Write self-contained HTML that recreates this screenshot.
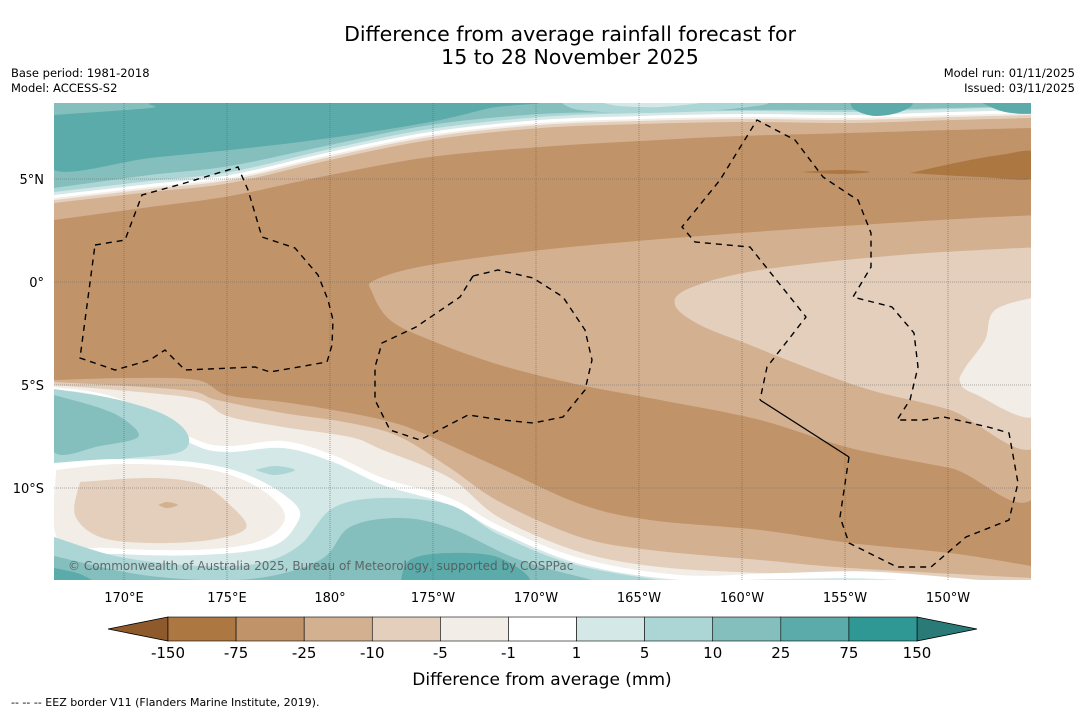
<!DOCTYPE html>
<html><head><meta charset="utf-8">
<style>
html,body{margin:0;padding:0;background:#fff;}
body{width:1085px;height:713px;overflow:hidden;font-family:"DejaVu Sans","Liberation Sans",sans-serif;}
svg text{font-family:"DejaVu Sans","Liberation Sans",sans-serif;}
</style></head>
<body>
<svg id="chart" width="1085" height="713" viewBox="0 0 1085 713" xmlns="http://www.w3.org/2000/svg">
<rect width="1085" height="713" fill="#fff"/>
<text x="570" y="41" font-size="20.5" text-anchor="middle" fill="#000">Difference from average rainfall forecast for</text>
<text x="570" y="64" font-size="20.5" text-anchor="middle" fill="#000">15 to 28 November 2025</text>
<text x="11" y="77" font-size="11.5">Base period: 1981-2018</text>
<text x="11" y="92" font-size="11.5">Model: ACCESS-S2</text>
<text x="1075" y="77" font-size="11.5" text-anchor="end">Model run: 01/11/2025</text>
<text x="1075" y="92" font-size="11.5" text-anchor="end">Issued: 03/11/2025</text>
<defs><clipPath id="mapclip"><rect x="54" y="103" width="977" height="477"/></clipPath></defs>
<g id="map" clip-path="url(#mapclip)"></g>
<g id="axes"></g>
<g id="cbar"></g>
<text x="542" y="685" font-size="17" text-anchor="middle">Difference from average (mm)</text>
<text x="11" y="706" font-size="11">--  --  -- EEZ border V11 (Flanders Marine Institute, 2019).</text>
</svg>
<script>
const levels = ["-150","-75","-25","-10","-5","-1","1","5","10","25","75","150"];
const levelColors = ["#ac7741","#c09369","#d3b090","#e3cfbc","#f2ede6","#ffffff","#d4e8e7","#acd6d5","#84bfbd","#5aabaa","#2f9794"];
const extendColors = ["#8e5a2b","#2a7a78"];
const lonLabels = ["170°E","175°E","180°","175°W","170°W","165°W","160°W","155°W","150°W"];
const lonValues = [170,175,180,185,190,195,200,205,210];
const latLabels = ["5°N","0°","5°S","10°S"];
const latValues = [5,0,-5,-10];

const NS="http://www.w3.org/2000/svg";
const map=document.getElementById('map');
const axes=document.getElementById('axes');
const cbar=document.getElementById('cbar');
function xLon(l){return 124+(l-170)*20.6;}
function yLat(l){return 282-l*20.6;}
function mk(tag,attrs,parent){const e=document.createElementNS(NS,tag);for(const k in attrs)e.setAttribute(k,attrs[k]);parent.appendChild(e);return e;}
function smooth(p){let d='';for(let i=0;i<p.length-1;i++){const p0=p[i-1]||p[i],p1=p[i],p2=p[i+1],p3=p[i+2]||p2;
 const c1x=p1[0]+(p2[0]-p0[0])/6,c1y=p1[1]+(p2[1]-p0[1])/6,c2x=p2[0]-(p3[0]-p1[0])/6,c2y=p2[1]-(p3[1]-p1[1])/6;
 d+=` C${c1x.toFixed(1)},${c1y.toFixed(1)} ${c2x.toFixed(1)},${c2y.toFixed(1)} ${p2[0]},${p2[1]}`;}return d;}
function topFill(pts,color,name){const d=`M40,90 L40,${pts[0][1]} L${pts[0][0]},${pts[0][1]}`+smooth(pts)+` L1045,${pts[pts.length-1][1]} L1045,90 Z`;
 const e=mk('path',{d:d,fill:color},map);
 
 }
function botFill(pts,color,name){const d=`M40,600 L40,${pts[0][1]} L${pts[0][0]},${pts[0][1]}`+smooth(pts)+` L1045,${pts[pts.length-1][1]} L1045,600 Z`;
 const e=mk('path',{d:d,fill:color},map);
 
 }
function blob(pts,color,name){const q=pts.concat([pts[0]]);const d=`M${pts[0][0]},${pts[0][1]}`+smooth(q)+' Z';
 const e=mk('path',{d:d,fill:color},map);
 
 }
const C=levelColors;
const base=mk('rect',{x:54,y:103,width:977,height:477,fill:C[1]},map);


const B=[[54,203],[150,192],[230,183],[330,160],[430,140],[540,128],[640,124],[740,122],[850,123],[950,120],[1031,118]];
const sh=(o)=>B.map(p=>[p[0],p[1]-o]);
topFill([[54,220],[150,207],[230,196],[330,175],[430,157],[540,147],[640,141],[740,136],[850,133],[950,130],[1031,128]],C[2],'north-band-25-10');
topFill(B,C[3],'north-band-10-5');
topFill(sh(3),C[4],'north-band-5-1');
topFill(sh(5),C[5],'north-band-neutral');
topFill(sh(8),C[6],'north-band-1-5');
topFill(sh(11),C[7],'north-band-5-10');
topFill([[54,188],[150,175],[230,166],[330,145],[430,125],[540,114],[640,112],[740,110],[850,110],[950,108],[1031,106]],C[8],'north-band-10-25');
blob([[54,115],[150,108],[180,102],[520,102],[490,108],[430,122],[330,138],[230,150],[150,158],[54,170]],C[9],'north-wet-core');
blob([[850,102],[910,102],[900,112],[875,116],[855,110]],C[9],'north-wet-patch-1');
blob([[980,102],[1035,102],[1035,113],[1005,112]],C[9],'north-wet-patch-2');
blob([[560,102],[760,102],[720,110],[640,113],[580,110]],C[7],'north-light-patch');
blob([[600,102],[700,102],[660,107],[620,106]],C[6],'north-light-patch-inner');
blob([[910,173],[960,162],[1000,155],[1035,152],[1035,178],[980,177]],C[0],'very-dry-patch');
blob([[800,172],[840,170],[870,172],[840,174]],C[0],'very-dry-streak');
botFill([[54,380],[130,378],[197,380],[227,395],[283,402],[333,410],[383,420],[420,432],[500,468],[580,504],[650,520],[760,530],[850,543],[950,553],[1031,566]],C[2],'south-band-25-10');
botFill([[54,382],[183,390],[217,400],[283,413],[350,423],[400,437],[450,468],[500,502],[580,537],[650,550],[760,560],[850,568],[1031,578]],C[3],'south-band-10-5');
botFill([[54,385],[150,393],[200,400],[227,416],[283,427],[350,437],[383,450],[450,478],[500,518],[580,552],[660,567],[760,573],[850,575],[1031,582]],C[4],'south-band-5-1');
botFill([[54,387],[117,398],[190,437],[227,446],[283,441],[333,455],[383,478],[450,498],[500,526],[580,558],[680,575],[780,573],[880,572],[1031,585]],C[5],'south-band-neutral');
botFill([[54,389],[117,401],[190,443],[227,452],[283,448],[333,462],[383,485],[450,505],[500,532],[580,564],[680,580],[780,579],[880,579],[1031,590]],C[6],'south-band-1-5');
blob([[54,389],[115,399],[165,415],[188,435],[180,452],[130,458],[80,463],[54,466]],C[7],'southwest-wet-lobe');
blob([[54,395],[100,408],[125,420],[138,437],[100,446],[54,452]],C[8],'southwest-wet-core');
blob([[255,470],[275,466],[295,470],[275,475]],C[7],'small-wet-spot');
blob([[54,463],[120,459],[200,463],[255,478],[296,505],[296,525],[270,547],[200,555],[120,554],[54,547]],C[5],'oval-neutral-ring');
blob([[56,470],[120,464],[200,468],[250,483],[282,508],[280,528],[250,544],[190,550],[110,548],[58,540]],C[4],'oval-ring');
blob([[80,482],[150,478],[200,484],[230,505],[246,528],[210,540],[150,543],[100,537],[75,515]],C[3],'oval-core');
blob([[158,505],[167,502],[178,505],[167,508]],C[2],'oval-center-spot');
botFill([[54,537],[120,557],[200,566],[260,563],[300,545],[333,508],[383,498],[450,505],[500,535],[580,566],[700,586]],C[7],'south-band-5-10');
botFill([[54,556],[150,576],[250,579],[320,560],[350,527],[400,518],[450,528],[520,560],[600,582]],C[8],'south-band-10-25');
blob([[400,585],[410,560],[450,553],[500,558],[525,585]],C[9],'south-wet-core');
blob([[54,568],[80,574],[95,585],[54,585]],C[9],'southwest-wet-corner');
blob([[1040,215],[940,220],[740,233],[560,248],[430,265],[375,280],[372,292],[390,320],[430,340],[500,365],[580,385],[660,400],[760,420],[850,448],[950,468],[1040,487]],C[2],'east-tongue-25-10');
blob([[1040,247],[900,255],[760,270],[690,288],[675,305],[700,325],[750,345],[800,365],[870,390],[950,410],[1040,442]],C[3],'east-tongue-10-5');
blob([[1040,296],[995,310],[985,340],[965,368],[960,382],[975,394],[1040,413]],C[4],'east-tongue-5-1');
lonValues.forEach((v,i)=>{const x=xLon(v);
 const g=mk('line',{x1:x,y1:103,x2:x,y2:580,stroke:'#666','stroke-width':0.6,'stroke-dasharray':'1,1'},map);
 
 
 const t=mk('text',{x:x,y:602,'font-size':13,'text-anchor':'middle'},axes);t.textContent=lonLabels[i];
 
 });
latValues.forEach((v,i)=>{const y=yLat(v);
 const g=mk('line',{x1:54,y1:y,x2:1031,y2:y,stroke:'#666','stroke-width':0.6,'stroke-dasharray':'1,1'},map);
 
 
 const t=mk('text',{x:44,y:y+5,'font-size':13,'text-anchor':'end'},axes);t.textContent=latLabels[i];
 
 });
const eez=[
 [[95,245],[125,240],[142,195],[185,183],[238,167],[248,190],[262,237],[295,248],[318,275],[328,300],[333,320],[332,345],[327,362],[270,372],[255,367],[185,370],[165,350],[150,360],[115,370],[80,358],[95,245]],
 [[473,276],[498,270],[533,278],[563,297],[585,330],[592,360],[585,390],[563,417],[533,423],[503,420],[468,415],[420,440],[390,430],[375,400],[375,367],[382,343],[416,327],[460,297],[473,276]],
 [[849,457],[840,517],[849,543],[897,567],[931,567],[966,537],[1009,520],[1018,483],[1009,433],[988,427],[944,417],[923,420],[897,420],[910,400],[918,367],[914,333],[892,307],[853,297],[871,267],[871,233],[858,200],[850,195],[823,177],[795,140],[757,120],[720,180],[682,227],[695,242],[750,247],[806,317],[767,367],[760,400]]
];
eez.forEach((p,i)=>{const e=mk('polyline',{points:p.map(q=>q.join(',')).join(' '),fill:'none',stroke:'#000','stroke-width':1.4,'stroke-dasharray':'6,5'},map);
 
 });
const sol=mk('line',{x1:760,y1:400,x2:849,y2:457,stroke:'#000','stroke-width':1.3},map);


const cp=mk('text',{x:68,y:570,'font-size':12,fill:'#555','fill-opacity':0.85},map);cp.textContent='© Commonwealth of Australia 2025, Bureau of Meteorology, supported by COSPPac';


const cx0=168,cx1=917,cy=617,ch=24,sw=(cx1-cx0)/levelColors.length;
const lt=mk('polygon',{points:`${cx0},${cy} 108,${cy+ch/2} ${cx0},${cy+ch}`,fill:extendColors[0],stroke:'#000','stroke-width':0.8},cbar);


const rt=mk('polygon',{points:`${cx1},${cy} 977,${cy+ch/2} ${cx1},${cy+ch}`,fill:extendColors[1],stroke:'#000','stroke-width':0.8},cbar);


levelColors.forEach((c,i)=>{const r=mk('rect',{x:cx0+i*sw,y:cy,width:sw,height:ch,fill:c,stroke:'#000','stroke-width':0.6},cbar);
 
 });
levels.forEach((l,i)=>{const t=mk('text',{x:cx0+i*sw,y:658,'font-size':15,'text-anchor':'middle'},cbar);t.textContent=l;
 
 });
</script>
</body></html>
